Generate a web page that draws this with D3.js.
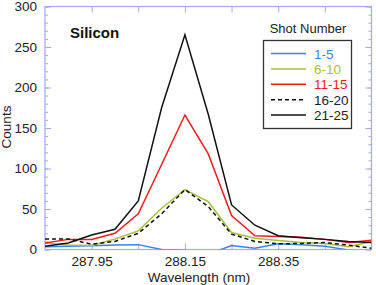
<!DOCTYPE html>
<html>
<head>
<meta charset="utf-8">
<script src="https://cdn.jsdelivr.net/npm/d3@7"></script>
<style>
  body { margin: 0; background: #fff; }
  svg { font-family: "Liberation Sans", Arial, sans-serif; }
</style>
</head>
<body>
<div id="chart"></div>
<script>
// Silicon line, counts per shot group

var wavelength = [287.85, 287.90, 287.95, 288.00, 288.05, 288.10, 288.15, 288.20,
                  288.25, 288.30, 288.35, 288.40, 288.45, 288.50, 288.55];
var shots1to5   = [3.5, 4, 4.5, 5.5, 6, 0, -1, -6, 5, 1.5, 7, 6, 4, -0.5, -4];
var shots6to10  = [8, 5.5, 5, 13, 23, 51, 74, 59, 21, 14, 11, 8.5, 7.5, 3.5, 9.5];
var shots11to15 = [8, 12.5, 12.5, 20, 44, 105, 166, 118, 42, 17, 16, 15, 12.5, 8.5, 11.5];
var shots16to20 = [13, 13, 6.5, 10, 20, 44, 74, 53, 19, 10, 7, 7.5, 8.5, 5.5, 1.5];
var shots21to25 = [4, 8, 18, 25, 60, 175, 265, 167, 55, 30, 17, 14.5, 12.5, 10, 8.5];

var seriesNames = ["1-5", "6-10", "11-15", "16-20", "21-25"];
var seriesColors = ["#3d80f5", "#a4c33c", "#f01c1c", "#111", "#111"];
var seriesDash = [null, null, null, "4,3", null];
var xTickVals = [287.95, 288.05, 288.15, 288.25, 288.35, 288.45];
var xLabelVals = [287.95, 288.15, 288.35];

var width = 376, height = 285,
    margin = {top: 6, right: 4.5, bottom: 35, left: 45},
    axisColor = "#a6a6f2";

var svg = d3.select("#chart").append("svg")
    .attr("width", width).attr("height", height);

var xs = d3.scaleLinear().domain([287.85, 288.55])
    .range([margin.left, width - margin.right]);
var ys = d3.scaleLinear().domain([0, 300])
    .range([height - margin.bottom - 0.5, margin.top + 0.5]);

var allSeries = [shots1to5, shots6to10, shots11to15, shots16to20, shots21to25];

svg.append("clipPath").attr("id", "plotClip")
  .append("rect")
    .attr("x", xs.range()[0]).attr("y", ys.range()[1])
    .attr("width", xs.range()[1] - xs.range()[0])
    .attr("height", ys.range()[0] - ys.range()[1]);

// minor y ticks on both sides
function styleAxis(g){
  g.select(".domain").remove();
  g.selectAll(".tick line").attr("stroke", axisColor);
}
svg.append("g").attr("transform", "translate(" + xs.range()[0] + ",0)")
  .call(d3.axisLeft(ys).tickValues(d3.range(0, 301, 10)).tickSize(-3).tickFormat(""))
  .call(styleAxis);
svg.append("g").attr("transform", "translate(" + xs.range()[1] + ",0)")
  .call(d3.axisRight(ys).tickValues(d3.range(0, 301, 10)).tickSize(-3).tickFormat(""))
  .call(styleAxis);

// major y ticks
var yAxisL = svg.append("g").attr("transform", "translate(" + xs.range()[0] + ",0)")
  .call(d3.axisLeft(ys).tickValues(d3.range(0, 301, 50)).tickSize(-6).tickPadding(8))
  .call(styleAxis);
yAxisL.selectAll("text").attr("font-size", 13.5).attr("fill", "#222");
svg.append("g").attr("transform", "translate(" + xs.range()[1] + ",0)")
  .call(d3.axisRight(ys).tickValues(d3.range(0, 301, 50)).tickSize(-6).tickFormat(""))
  .call(styleAxis);

// x ticks
var xAxisB = svg.append("g").attr("transform", "translate(0," + ys.range()[0] + ")")
  .call(d3.axisBottom(xs).tickValues(xTickVals).tickSize(-6).tickPadding(7)
    .tickFormat(function(d){ return xLabelVals.some(v => Math.abs(v - d) < 1e-6) ? d3.format(".2f")(d) : ""; }))
  .call(styleAxis);
xAxisB.selectAll("text").attr("font-size", 13.5).attr("fill", "#222");
svg.append("g").attr("transform", "translate(0," + ys.range()[1] + ")")
  .call(d3.axisTop(xs).tickValues(xTickVals).tickSize(-6).tickFormat(""))
  .call(styleAxis);

// frame
svg.append("rect")
  .attr("x", xs.range()[0]).attr("y", ys.range()[1])
  .attr("width", xs.range()[1] - xs.range()[0])
  .attr("height", ys.range()[0] - ys.range()[1])
  .attr("fill", "none").attr("stroke", axisColor).attr("stroke-width", 1.2);

// lines
var line = d3.line().x((d, i) => xs(wavelength[i])).y(d => ys(d));
var plotG = svg.append("g").attr("clip-path", "url(#plotClip)");
allSeries.forEach(function(s, k){
  plotG.append("path")
    .datum(s)
    .attr("d", line)
    .attr("fill", "none")
    .attr("stroke", seriesColors[k])
    .attr("stroke-width", 1.5)
    .attr("stroke-dasharray", seriesDash[k]);
});

// titles
svg.append("text").attr("x", 70).attr("y", 38)
  .attr("font-size", 15).attr("font-weight", "bold").attr("fill", "#111")
  .text("Silicon");
svg.append("text").attr("x", 199).attr("y", 282)
  .attr("text-anchor", "middle").attr("font-size", 13.5).attr("fill", "#222")
  .text("Wavelength (nm)");
svg.append("text")
  .attr("transform", "translate(11,127) rotate(-90)")
  .attr("text-anchor", "middle").attr("font-size", 13.5).attr("fill", "#222")
  .text("Counts");

// legend
svg.append("text").attr("x", 308).attr("y", 33)
  .attr("text-anchor", "middle").attr("font-size", 13).attr("fill", "#222")
  .text("Shot Number");
svg.append("rect").attr("x", 263.5).attr("y", 40.5).attr("width", 88).attr("height", 88)
  .attr("fill", "#fff").attr("stroke", "#333").attr("stroke-width", 1.3);
var leg = svg.selectAll(".leg").data(seriesNames).join("g")
  .attr("class", "leg")
  .attr("transform", (d, i) => "translate(0," + (53.5 + i * 15.4) + ")");
leg.append("line").attr("x1", 271).attr("x2", 306)
  .attr("stroke", (d, i) => seriesColors[i])
  .attr("stroke-width", 1.5)
  .attr("stroke-dasharray", (d, i) => seriesDash[i]);
leg.append("text").attr("x", 314).attr("y", 5)
  .attr("font-size", 13.5)
  .attr("fill", (d, i) => i === 3 || i === 4 ? "#222" : seriesColors[i])
  .text(d => d);
</script>
</body>
</html>
